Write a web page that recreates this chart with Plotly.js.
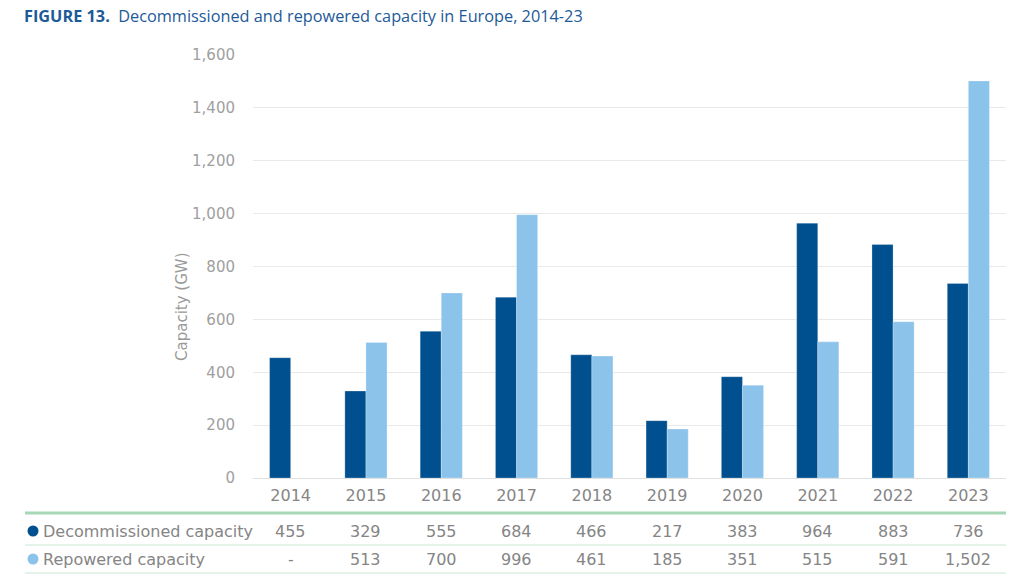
<!DOCTYPE html>
<html>
<head>
<meta charset="utf-8">
<script src="https://cdn.plot.ly/plotly-3.0.1.min.js"></script>
<style>html,body{margin:0;padding:0;background:#fff;}#chart{width:1024px;height:580px;}</style>
</head>
<body>
<div id="chart"></div>
<script>
const years = ['2014','2015','2016','2017','2018','2019','2020','2021','2022','2023'];
const decommissioned = [455, 329, 555, 684, 466, 217, 383, 964, 883, 736];
const repowered = [null, 513, 700, 996, 461, 185, 351, 515, 591, 1502];
const decomLabels = ['455','329','555','684','466','217','383','964','883','736'];
const repowLabels = ['-','513','700','996','461','185','351','515','591','1,502'];
const seriesNames = ['Decommissioned capacity', 'Repowered capacity'];
const colors = ['#00508f', '#8cc3ea'];

const font = '"DejaVu Sans", sans-serif';
const textGray = '#858585';

// layout geometry: plot area 253..1006 x, 55..478 y
const L = 253, R = 1006, T = 55, B = 478;
const py = Y => (B - Y) / (B - T);
const px = X => (X - L) / (R - L);

const traces = [
  {type:'bar', x:years, y:decommissioned, name:seriesNames[0],
   marker:{color:colors[0], line:{color:'rgba(255,255,255,0.5)', width:0.5}}, hoverinfo:'x+y'},
  {type:'bar', x:years, y:repowered, name:seriesNames[1],
   marker:{color:colors[1], line:{color:'rgba(255,255,255,0.5)', width:0.5}}, hoverinfo:'x+y'}
];

const annotations = [];
annotations.push({
  xref:'paper', yref:'paper', x:px(22), y:py(16), xanchor:'left', yanchor:'middle', showarrow:false,
  text:'<b>FIGURE 13.</b>  Decommissioned and repowered capacity in Europe, 2014-23',
  font:{family:'"Open Sans", "Noto Sans", sans-serif', size:16.3, color:'#1d5a98'}
});
annotations.push({
  xref:'paper', yref:'paper', x:px(182), y:py(307), xanchor:'center', yanchor:'middle', showarrow:false,
  text:'Capacity (GW)', textangle:-90, font:{family:font, size:15, color:'#9a9a9a'}
});
const rowY = [531, 559];
const rowVals = [decomLabels, repowLabels];
const shapes = [
  {type:'line', xref:'paper', yref:'paper', x0:px(25), x1:1, y0:py(513), y1:py(513), line:{color:'#a6d8b6', width:3}},
  {type:'line', xref:'paper', yref:'paper', x0:px(25), x1:1, y0:py(545), y1:py(545), line:{color:'#c9e8d3', width:1}},
  {type:'line', xref:'paper', yref:'paper', x0:px(25), x1:1, y0:py(573), y1:py(573), line:{color:'#c9e8d3', width:1}}
];
for (let r = 0; r < 2; r++) {
  shapes.push({type:'circle', xref:'paper', yref:'paper', xsizemode:'pixel', ysizemode:'pixel',
    xanchor:px(33), yanchor:py(rowY[r]), x0:-5.5, x1:5.5, y0:-5.5, y1:5.5,
    fillcolor:colors[r], line:{width:0}});
  annotations.push({
    xref:'paper', yref:'paper', x:px(41), y:py(rowY[r]), xanchor:'left', yanchor:'middle', showarrow:false,
    text:seriesNames[r], font:{family:font, size:16, color:textGray}
  });
  for (let i = 0; i < years.length; i++) {
    annotations.push({
      xref:'x', yref:'paper', x:i, y:py(rowY[r]), xanchor:'center', yanchor:'middle', showarrow:false,
      text:rowVals[r][i], font:{family:font, size:16, color:textGray}
    });
  }
}

const layout = {
  width:1024, height:580,
  margin:{l:L, r:1024-R, t:T, b:580-B, pad:0},
  paper_bgcolor:'#ffffff', plot_bgcolor:'#ffffff',
  showlegend:false,
  barmode:'group', bargap:0.44, bargroupgap:0,
  font:{family:font, color:textGray},
  xaxis:{type:'category', range:[-0.5, years.length - 0.5], autorange:false,
         showgrid:false, zeroline:false, showline:false,
         ticks:'outside', ticklen:3, tickcolor:'rgba(0,0,0,0)',
         tickfont:{family:font, size:16, color:'#858585'}},
  yaxis:{range:[0,1600], autorange:false, tickvals:[0,200,400,600,800,1000,1200,1400,1600],
         tickformat:',d', showgrid:true, gridcolor:'#e9e9e9', gridwidth:1,
         zeroline:true, zerolinecolor:'#e0e0e0', zerolinewidth:1, showline:false,
         ticks:'outside', ticklen:14, tickcolor:'rgba(0,0,0,0)',
         tickfont:{family:font, size:15, color:'#a0a0a0'}},
  annotations:annotations,
  shapes:shapes
};

Plotly.newPlot('chart', traces, layout, {displayModeBar:false, staticPlot:true});
</script>
</body>
</html>
